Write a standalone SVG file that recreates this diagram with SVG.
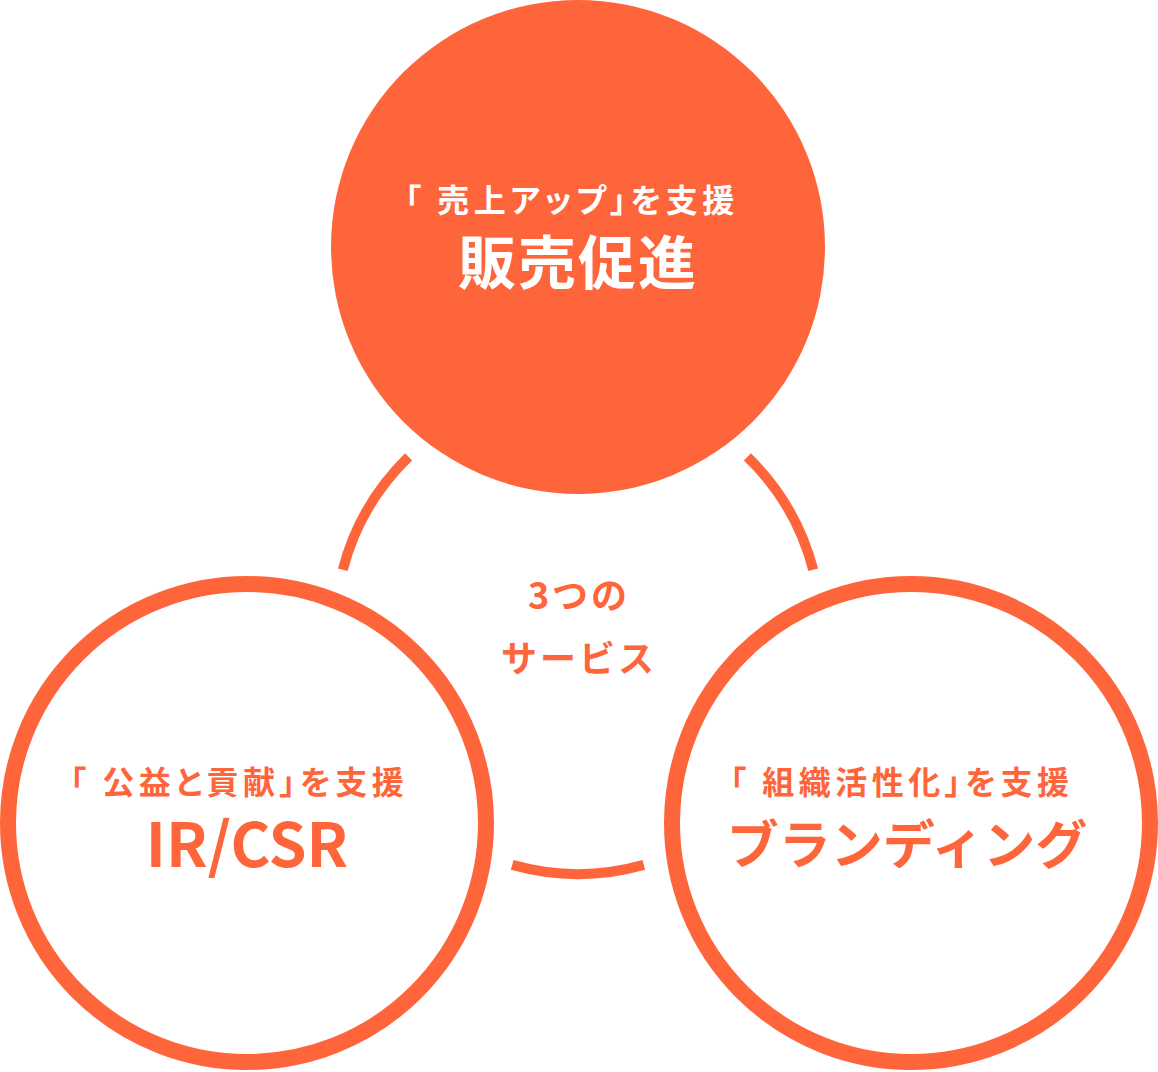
<svg xmlns="http://www.w3.org/2000/svg" width="1158" height="1072" viewBox="0 0 1158 1072">
<style>
.t{font-family:"Noto Sans CJK JP","Noto Sans",sans-serif;}
.s{font-size:32px;font-weight:600;letter-spacing:4.5px;font-feature-settings:"palt" 1;}
.m{font-size:36px;font-weight:600;letter-spacing:3px;}
.b{font-weight:700;}
.w{fill:#ffffff;}
.o{fill:#ff653a;}
.ring{fill:#ffffff;stroke:#ff653a;stroke-width:16;}
.arc{fill:none;stroke:#ff653a;stroke-width:10;stroke-linecap:butt;}
</style>
<rect width="1158" height="1072" fill="#ffffff"/>
<g id="connectors">
<path class="arc" d="M342.8,569.7 A243,243 0 0 1 408.6,456.8"/>
<path class="arc" d="M747.4,456.8 A243,243 0 0 1 813.2,569.7"/>
<path class="arc" d="M643.8,864.9 A243,243 0 0 1 512.2,864.9"/>
</g>
<g id="center-label">
<text class="t o m" x="579" y="609" text-anchor="middle">3つの</text>
<text class="t o m" x="579" y="672" text-anchor="middle">サービス</text>
</g>
<g id="node-sales">
<circle cx="578" cy="247" r="247" fill="#ff653a"/>
<text class="t w s" x="405" y="212">「 売上アップ」を支援</text>
<text class="t w b" x="578" y="284" text-anchor="middle" style="font-size:58px;letter-spacing:2px">販売促進</text>
</g>
<g id="node-ir">
<circle class="ring" cx="247" cy="823" r="239"/>
<text class="t o s" x="70" y="794">「 公益と貢献」を支援</text>
<text class="t o b" x="247" y="867" text-anchor="middle" style="font-size:61px">IR/CSR</text>
</g>
<g id="node-branding">
<circle class="ring" cx="911" cy="823" r="239"/>
<text class="t o s" x="730" y="794">「 組織活性化」を支援</text>
<text class="t o b" x="907" y="864" text-anchor="middle" style="font-size:52px">ブランディング</text>
</g>
</svg>
